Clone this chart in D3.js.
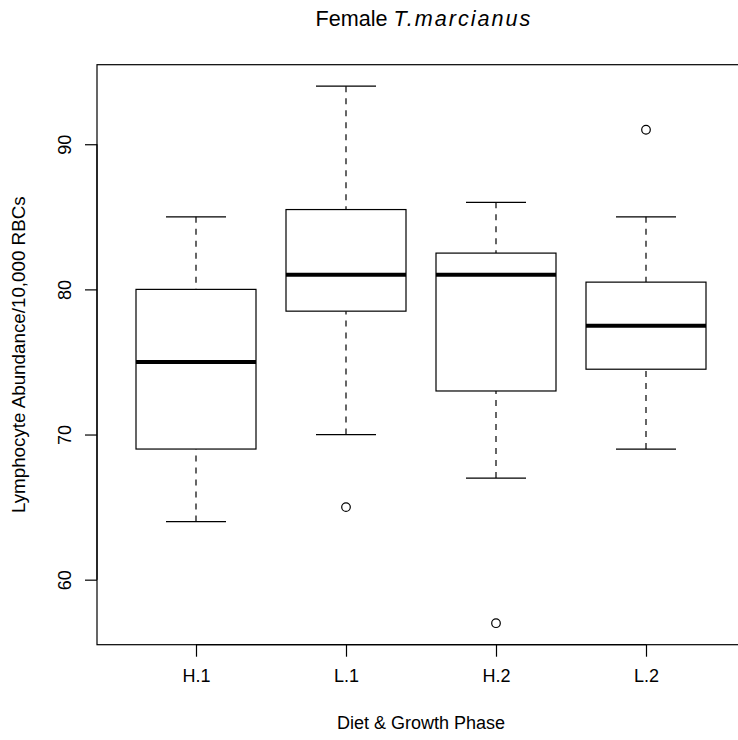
<!DOCTYPE html>
<html>
  <head>
    <meta charset="utf-8">
    <style>
      body { margin: 0; background: #fff; }
      text { font-family: "Liberation Sans", Arial, sans-serif; fill: #000; }
    </style>
  </head>
  <body>
    <svg width="738" height="740"></svg>
    <script src="https://d3js.org/d3.v7.min.js"></script>
    <script>
      // box statistics
      var groups = ["H.1", "L.1", "H.2", "L.2"];
      var whiskerLow = [64, 70, 67, 69];
      var q1 = [69, 78.5, 73, 74.5];
      var medians = [75, 81, 81, 77.5];
      var q3 = [80, 85.5, 82.5, 80.5];
      var whiskerHigh = [85, 94, 86, 85];
      var outliers = [
        { group: 1, value: 65 },
        { group: 2, value: 57 },
        { group: 3, value: 91 }
      ];
      var yTicks = [60, 70, 80, 90];

      var svg = d3.select("svg");

      // R style: xlim 0.5..4.5 widened 4%, plot runs past the right edge
      var x = d3.scaleLinear().domain([0.34, 4.66]).range([97, 745]);
      var y = d3.scaleLinear().domain([55.52, 95.48]).range([644.7, 64.7]);

      var boxHalf = 0.4, capHalf = 0.2;

      var stats = groups.map(function(g, i) {
        return { name: g, i: i, lo: whiskerLow[i], q1: q1[i], med: medians[i], q3: q3[i], hi: whiskerHigh[i] };
      });

      // plot frame
      svg.append("rect")
        .attr("x", x.range()[0])
        .attr("y", y.range()[1])
        .attr("width", x.range()[1] - x.range()[0])
        .attr("height", y.range()[0] - y.range()[1])
        .attr("fill", "none")
        .attr("stroke", "#000")
        .attr("stroke-width", 1.2);

      var g = svg.selectAll("g.box")
        .data(stats)
        .enter().append("g")
        .attr("class", "box");

      // whiskers, drawn from the extreme toward the box
      g.append("line")
        .attr("x1", function(d) { return x(d.i + 1); })
        .attr("x2", function(d) { return x(d.i + 1); })
        .attr("y1", function(d) { return y(d.hi); })
        .attr("y2", function(d) { return y(d.q3); })
        .attr("stroke", "#000").attr("stroke-width", 1.2)
        .attr("stroke-dasharray", "6,6");
      g.append("line")
        .attr("x1", function(d) { return x(d.i + 1); })
        .attr("x2", function(d) { return x(d.i + 1); })
        .attr("y1", function(d) { return y(d.lo); })
        .attr("y2", function(d) { return y(d.q1); })
        .attr("stroke", "#000").attr("stroke-width", 1.2)
        .attr("stroke-dasharray", "6,6");

      // staples
      ["lo", "hi"].forEach(function(k) {
        g.append("line")
          .attr("x1", function(d) { return x(d.i + 1 - capHalf); })
          .attr("x2", function(d) { return x(d.i + 1 + capHalf); })
          .attr("y1", function(d) { return y(d[k]); })
          .attr("y2", function(d) { return y(d[k]); })
          .attr("stroke", "#000").attr("stroke-width", 1.2);
      });

      // boxes
      g.append("rect")
        .attr("x", function(d) { return x(d.i + 1 - boxHalf); })
        .attr("width", function(d) { return x(d.i + 1 + boxHalf) - x(d.i + 1 - boxHalf); })
        .attr("y", function(d) { return y(d.q3); })
        .attr("height", function(d) { return y(d.q1) - y(d.q3); })
        .attr("fill", "#fff")
        .attr("stroke", "#000").attr("stroke-width", 1.2);

      // medians
      g.append("line")
        .attr("x1", function(d) { return x(d.i + 1 - boxHalf); })
        .attr("x2", function(d) { return x(d.i + 1 + boxHalf); })
        .attr("y1", function(d) { return y(d.med); })
        .attr("y2", function(d) { return y(d.med); })
        .attr("stroke", "#000").attr("stroke-width", 4);

      svg.selectAll("circle.out")
        .data(outliers)
        .enter().append("circle")
        .attr("class", "out")
        .attr("cx", function(d) { return x(d.group + 1); })
        .attr("cy", function(d) { return y(d.value); })
        .attr("r", 4.3)
        .attr("fill", "none")
        .attr("stroke", "#000").attr("stroke-width", 1.2);

      // axes
      var xAxis = d3.axisBottom(x)
        .tickValues([1, 2, 3, 4])
        .tickFormat(function(d) { return groups[d - 1]; })
        .tickSize(12)
        .tickPadding(13);
      var gx = svg.append("g")
        .attr("transform", "translate(0," + y.range()[0] + ")")
        .call(xAxis);
      gx.select(".domain").attr("d", "M" + x(1) + ",0H" + x(4));
      gx.selectAll("line, path").attr("stroke", "#000").attr("stroke-width", 1.2);
      gx.selectAll("text").attr("font-size", 18).attr("font-family", "Liberation Sans, Arial, sans-serif");

      var yAxis = d3.axisLeft(y)
        .tickValues(yTicks)
        .tickSize(12);
      var gy = svg.append("g")
        .attr("transform", "translate(" + x.range()[0] + ",0)")
        .call(yAxis);
      gy.select(".domain").attr("d", "M0," + y(yTicks[0]) + "V" + y(yTicks[yTicks.length - 1]));
      gy.selectAll("line, path").attr("stroke", "#000").attr("stroke-width", 1.2);
      gy.selectAll("text")
        .attr("x", null).attr("dy", null)
        .attr("text-anchor", "middle")
        .attr("font-size", 18)
        .attr("font-family", "Liberation Sans, Arial, sans-serif")
        .attr("transform", "translate(-26,0) rotate(-90)");

      // titles
      var title = svg.append("text")
        .attr("x", 424)
        .attr("y", 26)
        .attr("text-anchor", "middle")
        .attr("font-size", 21.6);
      title.append("tspan").text("Female ");
      title.append("tspan").attr("font-style", "italic").attr("letter-spacing", 2).text("T.marcianus");

      svg.append("text")
        .attr("x", 421)
        .attr("y", 729)
        .attr("text-anchor", "middle")
        .attr("font-size", 18)
        .text("Diet & Growth Phase");

      svg.append("text")
        .attr("transform", "translate(25," + ((y.range()[0] + y.range()[1]) / 2) + ") rotate(-90)")
        .attr("text-anchor", "middle")
        .attr("font-size", 18.8)
        .text("Lymphocyte Abundance/10,000 RBCs");
    </script>
  </body>
</html>
